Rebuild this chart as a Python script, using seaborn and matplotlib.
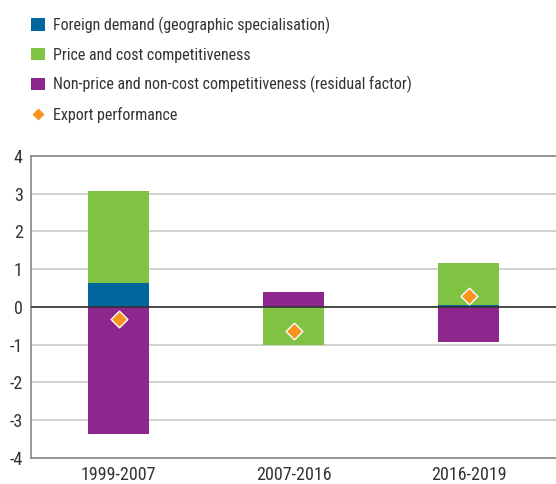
import numpy as np
import pandas as pd
import seaborn as sns
import matplotlib.pyplot as plt
from matplotlib.patches import Patch
from matplotlib.lines import Line2D

# Data
periods = ['1999-2007', '2007-2016', '2016-2019']
foreign_demand = [0.63, 0.0, 0.06]
price_cost = [2.44, -1.02, 1.10]
non_price = [-3.38, 0.40, -0.92]
export_perf = [-0.32, -0.63, 0.28]

series_names = ['Foreign demand (geographic specialisation)',
                'Price and cost competitiveness',
                'Non-price and non-cost competitiveness (residual factor)']
colors = ['#00669B', '#80C242', '#8E278D']
orange = '#F7941D'

sns.set_style('white')
plt.rcParams['font.family'] = ['Liberation Sans Narrow', 'Roboto Condensed',
                               'Liberation Sans', 'DejaVu Sans']
plt.rcParams['axes.unicode_minus'] = False
text_color = '#333333'

fig = plt.figure(figsize=(5.56, 4.84), dpi=100)
ax = fig.add_axes([0.056, 0.054, 0.944, 0.624])

# stacked bars, positives and negatives stacked separately
pos_bottom = np.zeros(len(periods))
neg_bottom = np.zeros(len(periods))
for vals, col in zip([foreign_demand, price_cost, non_price], colors):
    vals = np.array(vals)
    bottoms = np.where(vals >= 0, pos_bottom, neg_bottom)
    sns.barplot(x=periods, y=vals, bottom=bottoms, color=col, width=0.35,
                saturation=1, linewidth=0, edgecolor='none', ax=ax, zorder=2)
    pos_bottom = pos_bottom + np.where(vals > 0, vals, 0)
    neg_bottom = neg_bottom + np.where(vals < 0, vals, 0)

sns.stripplot(x=periods, y=export_perf, marker='D', color=orange, size=8.5,
              edgecolor='white', linewidth=1, jitter=False, ax=ax, zorder=5)

ax.set_xlim(-0.5, 2.5)
ax.set_ylim(-4, 4)
ax.set_yticks(range(-4, 5))
ax.yaxis.grid(True, color='#c8c8c8', linewidth=1.2, zorder=0)
ax.axhline(0, color='#333333', linewidth=1.2, zorder=3)
ax.set_axisbelow(True)
for side in ['top', 'left', 'bottom']:
    ax.spines[side].set_color('#888888')
    ax.spines[side].set_linewidth(1.2)
ax.spines['right'].set_visible(False)
ax.tick_params(axis='both', length=0, labelsize=13, colors=text_color)
ax.tick_params(axis='y', pad=6)
ax.tick_params(axis='x', pad=6)
ax.set_xlabel('')
ax.set_ylabel('')

handles = [Patch(facecolor=c, edgecolor='none') for c in colors]
handles.append(Line2D([], [], marker='D', color=orange, linestyle='none',
                      markersize=7, markeredgecolor='white'))
labels = series_names + ['Export performance']
fig.legend(handles, labels, loc='upper left', bbox_to_anchor=(0.03, 0.995),
           frameon=False, fontsize=11.5, handlelength=0.85, handleheight=0.85,
           handletextpad=0.55, labelspacing=0.85, labelcolor=text_color)

fig.savefig('out.png', dpi=100)
